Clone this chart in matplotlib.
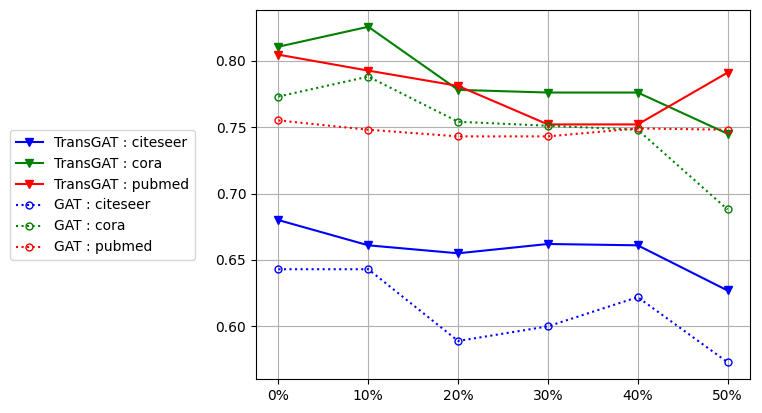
import matplotlib
matplotlib.use('Agg')
import matplotlib.pyplot as plt

# rasio noise / data perturbasi
labels = ['0%', '10%', '20%', '30%', '40%', '50%']

transgat_citeseer = [0.680, 0.661, 0.655, 0.662, 0.661, 0.627]
transgat_cora = [0.8105, 0.8255, 0.778, 0.776, 0.776, 0.745]
transgat_pubmed = [0.8045, 0.7925, 0.781, 0.752, 0.752, 0.791]

gat_citeseer = [0.643, 0.643, 0.589, 0.600, 0.622, 0.573]
gat_cora = [0.773, 0.788, 0.754, 0.751, 0.748, 0.688]
gat_pubmed = [0.755, 0.748, 0.743, 0.743, 0.749, 0.748]

fig = plt.figure(figsize=(7.62, 4.13), dpi=100)
ax = fig.add_axes([256 / 762, 34 / 413, 494 / 762, 369 / 413])

x = list(range(len(labels)))
ax.plot(x, transgat_citeseer, 'v-', color='blue', markersize=6, label='TransGAT : citeseer')
ax.plot(x, transgat_cora, 'v-', color='green', markersize=6, label='TransGAT : cora')
ax.plot(x, transgat_pubmed, 'v-', color='red', markersize=6, label='TransGAT : pubmed')
ax.plot(x, gat_citeseer, 'o:', color='blue', markersize=5, markerfacecolor='none', label='GAT : citeseer')
ax.plot(x, gat_cora, 'o:', color='green', markersize=5, markerfacecolor='none', label='GAT : cora')
ax.plot(x, gat_pubmed, 'o:', color='red', markersize=5, markerfacecolor='none', label='GAT : pubmed')

ax.set_xticks(x)
ax.set_xticklabels(labels)
ax.grid(True)

fig.legend(loc='center left', bbox_to_anchor=(10 / 762, 1 - 195 / 413), borderaxespad=0)

plt.savefig('out.png')
plt.close()
